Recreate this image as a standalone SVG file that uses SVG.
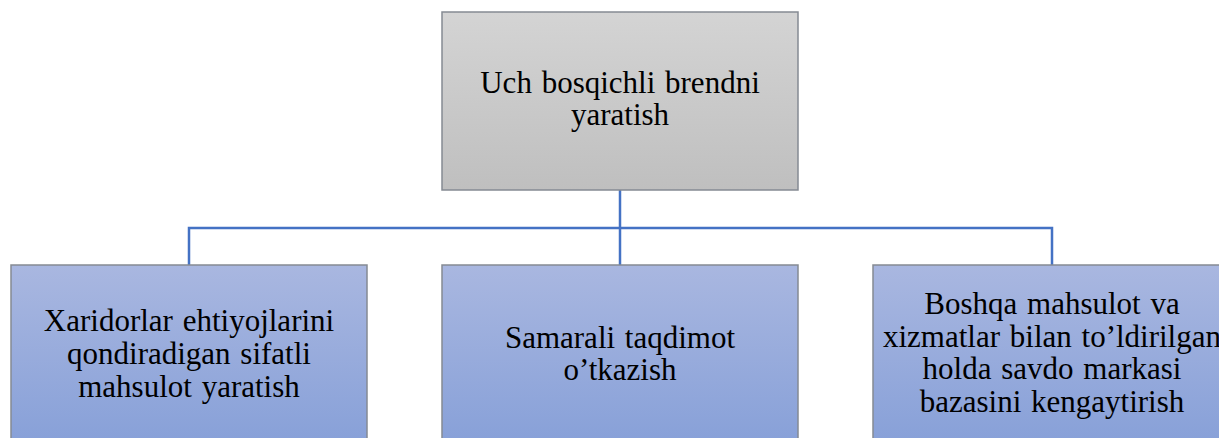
<svg xmlns="http://www.w3.org/2000/svg" width="1219" height="438" viewBox="0 0 1219 438">
  <defs>
    <linearGradient id="grayFill" x1="0" y1="0" x2="0" y2="1">
      <stop offset="0" stop-color="#d4d4d4"/>
      <stop offset="1" stop-color="#bfbfbf"/>
    </linearGradient>
    <linearGradient id="blueFill" x1="0" y1="0" x2="0" y2="1">
      <stop offset="0" stop-color="#a9b7e0"/>
      <stop offset="1" stop-color="#87a0d8"/>
    </linearGradient>
  </defs>
  <style>
    .box { stroke: #858a93; stroke-width: 1.5; }
    .top { fill: url(#grayFill); }
    .leaf { fill: url(#blueFill); }
    .label { font-family: "Liberation Serif", "Times New Roman", serif; font-size: 31px; word-spacing: 2px; fill: #000; text-anchor: middle; }
    .link { fill: none; stroke: #4472c4; stroke-width: 2.5; }
  </style>
  <rect width="1219" height="438" fill="#ffffff"/>

  <!-- connectors: root to three children -->
  <g id="connectors">
    <path class="link" d="M620 190 V228"/>
    <path class="link" d="M189 265 V228 H1052 V265"/>
    <path class="link" d="M620 228 V265"/>
  </g>

  <g id="root">
    <rect class="box top" x="442" y="12" width="356" height="178"/>
    <text class="label" x="620" y="93">Uch bosqichli brendni</text>
    <text class="label" x="620" y="125">yaratish</text>
  </g>

  <g id="child-quality">
    <rect class="box leaf" x="11" y="265" width="356" height="180"/>
    <text class="label" x="189" y="331">Xaridorlar ehtiyojlarini</text>
    <text class="label" x="189" y="364">qondiradigan sifatli</text>
    <text class="label" x="189" y="397">mahsulot yaratish</text>
  </g>

  <g id="child-presentation">
    <rect class="box leaf" x="442" y="265" width="356" height="180"/>
    <text class="label" x="620" y="348">Samarali taqdimot</text>
    <text class="label" x="620" y="380">o’tkazish</text>
  </g>

  <g id="child-expansion">
    <rect class="box leaf" x="873" y="265" width="356" height="180"/>
    <text class="label" x="1052" y="314">Boshqa mahsulot va</text>
    <text class="label" x="1052" y="347">xizmatlar bilan to’ldirilgan</text>
    <text class="label" x="1052" y="379">holda savdo markasi</text>
    <text class="label" x="1052" y="412">bazasini kengaytirish</text>
  </g>
</svg>
